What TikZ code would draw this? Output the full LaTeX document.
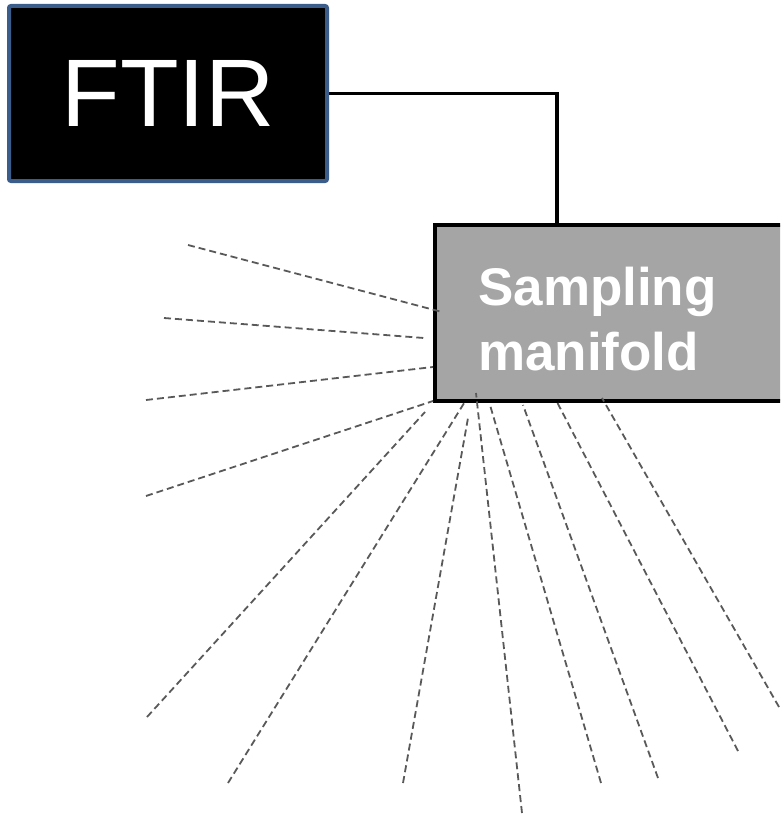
\documentclass[tikz,border=0pt]{standalone}
\usepackage{fontspec}
\setmainfont{Liberation Sans}
\definecolor{ftirblue}{HTML}{3A5D8C}
\definecolor{manigray}{HTML}{A5A5A5}
\definecolor{raygray}{HTML}{595959}
\tikzset{
  ftirbox/.style={draw=ftirblue, fill=black, line width=4pt, rounded corners=2pt,
    minimum width=318pt, minimum height=175pt, inner sep=0pt, text=white,
    font=\fontsize{96}{110}\selectfont},
  manibox/.style={draw=black, fill=manigray, line width=4pt, anchor=north west,
    minimum width=370pt, minimum height=176pt, inner sep=0pt},
  manitext/.style={anchor=north west, inner sep=0pt, align=left, text=white,
    font=\fontsize{53}{65}\selectfont\bfseries},
  pipe/.style={draw=black, line width=3.3pt},
  ray/.style={draw=raygray, line width=1.8pt, dash pattern=on 7pt off 4pt}
}
\begin{document}
\begin{tikzpicture}[x=1pt, y=-1pt]
  \useasboundingbox (0,0) rectangle (780,816);
  \begin{scope}
    \clip (0,0) rectangle (780,816);

    % sampling manifold
    \node[manibox] (mani) at (433,223) {};
    \node[manitext] (manilabel) at (478,267) {Sampling\\manifold};

    % spectrometer
    \node[ftirbox] (ftir) at (168,93.5) {FTIR};

    % sample line from spectrometer to manifold
    \coordinate (tap) at (557,223);
    \draw[pipe] (ftir.east) -| (tap);

    % sampling points spread around the manifold
    \foreach \i/\ax/\ay/\bx/\by in {
        1/188/245/442/312,
        2/164/318/424/338,
        3/146/400/433/367,
        4/146/496/433/401,
        5/147/717/425/412,
        6/228/783/466/400,
        7/403/783/468/418,
        8/522/813/476/393,
        9/601/783/490/405,
        10/658/778/523/405,
        11/738/751/557/402,
        12/779/707/602/398} {
      \coordinate (p\i) at (\ax,\ay);
      \coordinate (q\i) at (\bx,\by);
      \draw[ray] (p\i) -- (q\i);
    }
  \end{scope}
\end{tikzpicture}
\end{document}
